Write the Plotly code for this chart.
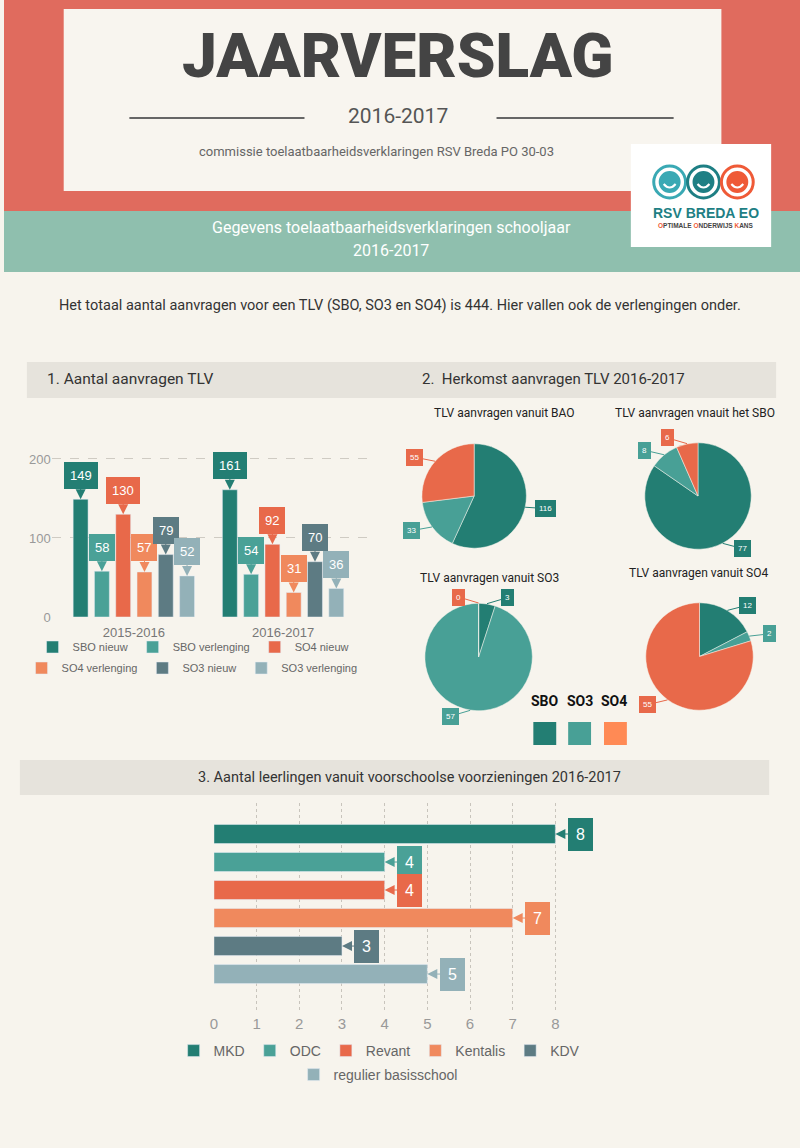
import math
import plotly.graph_objects as go

W, H = 800, 1148
HE = 1140  # effective drawing height of the paper area
def X(p): return p / W
def Y(p): return 1 - p / HE

BG = "#f7f4ed"
COND = "Roboto, Liberation Sans, sans-serif"
SANS = "Liberation Sans, Arial, sans-serif"

# ---------------- data ----------------
years = ["2015-2016", "2016-2017"]
tlv_names = ["SBO nieuw", "SBO verlenging", "SO4 nieuw", "SO4 verlenging", "SO3 nieuw", "SO3 verlenging"]
sbo_nieuw = [149, 161]
sbo_verlenging = [58, 54]
so4_nieuw = [130, 92]
so4_verlenging = [57, 31]
so3_nieuw = [79, 70]
so3_verlenging = [52, 36]
tlv_values = [sbo_nieuw, sbo_verlenging, so4_nieuw, so4_verlenging, so3_nieuw, so3_verlenging]
tlv_colors = ["#237e73", "#4aa197", "#e8694a", "#f0895d", "#5d7b83", "#93b1b8"]

pie_labels = ["SBO", "SO3", "SO4"]
pie_colors = ["#237e73", "#48a096", "#e8694a"]
pie_bao = [116, 33, 55]
pie_sbo = [77, 8, 6]
pie_so3 = [3, 57, 0]
pie_so4 = [12, 2, 55]
pie_titles = ["TLV aanvragen vanuit BAO", "TLV aanvragen vnauit het SBO",
              "TLV aanvragen vanuit SO3", "TLV aanvragen vanuit SO4"]

vs_cats = ["MKD", "ODC", "Revant", "Kentalis", "KDV", "regulier basisschool"]
vs_vals = [8, 4, 4, 7, 3, 5]
vs_colors = ["#237e73", "#4aa197", "#e8694a", "#f0895d", "#5d7b83", "#93b1b8"]

fig = go.Figure()
ann = []
shapes = []

# ---------------- chart 1: grouped bars ----------------
slot = 21.4 / 150
bar_w = 15 / 150
for s, (name, vals, col) in enumerate(zip(tlv_names, tlv_values, tlv_colors)):
    xs = [g + (s - 2.5) * slot for g in range(len(years))]
    fig.add_trace(go.Bar(x=xs, y=vals, width=bar_w, marker_color=col, name=name,
                         xaxis="x", yaxis="y", hoverinfo="skip",
                         legend="legend" if s < 3 else "legend2"))
    for xv, v in zip(xs, vals):
        ann.append(dict(x=xv, y=v, xref="x", yref="y", text=str(v),
                        font=dict(family=SANS, size=13, color="white"),
                        bgcolor=col, bordercolor=col, borderpad=5,
                        showarrow=True, arrowhead=2, arrowsize=2, arrowwidth=1,
                        arrowcolor=col, ax=0, ay=-24))

# ---------------- chart 3: horizontal bars ----------------
for cat, v, col in zip(vs_cats, vs_vals, vs_colors):
    fig.add_trace(go.Bar(x=[v], y=[cat], orientation="h", width=0.68, marker_color=col,
                         name=cat, xaxis="x2", yaxis="y2", hoverinfo="skip",
                         legend="legend3" if cat != vs_cats[-1] else "legend4"))
    ann.append(dict(x=v, y=cat, xref="x2", yref="y2", text=str(v),
                    font=dict(family=SANS, size=16, color="white"),
                    bgcolor=col, bordercolor=col, borderpad=7,
                    showarrow=True, arrowhead=2, arrowsize=2, arrowwidth=1,
                    arrowcolor=col, ax=25, ay=0))

# ---------------- pies ----------------
pie_geo = [(472.5, 496, 52.5), (697.5, 496, 53.5), (477, 657, 54), (699, 656.5, 54)]
pie_data = [pie_bao, pie_sbo, pie_so3, pie_so4]
pie_title_pos = [(503, 413), (694, 413), (488, 578), (698, 573)]
for (cx, cy, r), vals, title, (tx, ty) in zip(pie_geo, pie_data, pie_titles, pie_title_pos):
    fig.add_trace(go.Pie(values=vals, labels=pie_labels, sort=False, direction="clockwise",
                         rotation=0, textinfo="none", showlegend=False, hoverinfo="skip",
                         marker=dict(colors=pie_colors, line=dict(color=BG, width=0.5)),
                         domain=dict(x=[X(cx - r), X(cx + r)], y=[Y(cy + r), Y(cy - r)])))
    total = sum(vals)
    start = 0.0
    for v, col in zip(vals, pie_colors):
        th = start + 0.5 * v / total * 360
        start += v / total * 360
        t = math.radians(th)
        ex, ey = cx + r * math.sin(t), cy - r * math.cos(t)
        side = 1 if th < 180 else -1
        ann.append(dict(x=X(ex), y=Y(ey), xref="paper", yref="paper", text=str(v),
                        font=dict(family=SANS, size=8, color="white"),
                        bgcolor=col, bordercolor=col, borderpad=3,
                        showarrow=True, arrowhead=0, arrowwidth=1, arrowcolor=col,
                        ax=20 * side, ay=-6 * math.cos(t)))
    ann.append(dict(x=X(tx), y=Y(ty), xref="paper", yref="paper", text=title, showarrow=False,
                    xanchor="center", yanchor="middle",
                    font=dict(family=COND, size=12, color="#222")))

# ---------------- background / decoration ----------------
def rect(x0, y0, x1, y1, color, layer="below"):
    shapes.append(dict(type="rect", xref="paper", yref="paper", x0=X(x0), x1=X(x1),
                       y0=Y(y1), y1=Y(y0), fillcolor=color, line=dict(width=0), layer=layer))

rect(0, 0, 800, 211, "#e06b5e")
rect(60, 9, 721, 191, "#f8f5ef")
rect(0, 211, 800, 272, "#8fbfae")
rect(23, 362, 776, 398, "#e6e3dc")
rect(16, 760, 769, 795, "#e6e3dc")
# logo box
rect(630, 144, 771, 247, "#ffffff", layer="above")
for lx, lc in zip([669, 703, 737], ["#3aa9b4", "#1e7f84", "#ef5a37"]):
    shapes.append(dict(type="circle", xref="paper", yref="paper", x0=X(lx - 16), x1=X(lx + 16),
                       y0=Y(198), y1=Y(166), line=dict(color=lc, width=3), fillcolor="white", layer="above"))
    shapes.append(dict(type="circle", xref="paper", yref="paper", x0=X(lx - 11), x1=X(lx + 11),
                       y0=Y(193), y1=Y(171), line=dict(width=0), fillcolor=lc, layer="above"))
    shapes.append(dict(type="path", xref="paper", yref="paper",
                       path=f"M {X(lx-6)},{Y(184)} Q {X(lx)},{Y(191)} {X(lx+6)},{Y(184)}",
                       line=dict(color="white", width=2), layer="above"))
# lines beside year
for x0, x1 in [(126, 302), (495, 673)]:
    shapes.append(dict(type="line", xref="paper", yref="paper", x0=X(x0), x1=X(x1),
                       y0=Y(118), y1=Y(118), line=dict(color="#666", width=2)))
# pie legend squares
for sx, sc in zip([532, 567, 603], ["#237e73", "#48a096", "#ff8a55"]):
    rect(sx, 722, sx + 23, 745, sc, layer="above")

def text(x, y, s, size, color="#333", family=COND, xanchor="center", weight="normal"):
    ann.append(dict(x=X(x), y=Y(y), xref="paper", yref="paper", text=s, showarrow=False,
                    xanchor=xanchor, yanchor="middle",
                    font=dict(family=family, size=size, color=color, weight=weight)))

text(396, 55, "JAARVERSLAG", 62, "#444", weight=900)
text(396, 116, "2016-2017", 21, "#555")
text(374, 152, "commissie toelaatbaarheidsverklaringen RSV Breda PO 30-03", 13, "#666")
text(389, 227, "Gegevens toelaatbaarheidsverklaringen schooljaar", 16, "white")
text(389, 250, "2016-2017", 16, "white")
text(398, 306, "Het totaal aantal aanvragen voor een TLV (SBO, SO3 en SO4) is 444. Hier vallen ook de verlengingen onder.", 14.5, "#333")
text(41, 379, "1. Aantal aanvragen TLV", 15.5, "#333", xanchor="left")
text(418, 379, "2.&nbsp;&nbsp;Herkomst aanvragen TLV 2016-2017", 15, "#333", xanchor="left")
text(408, 777, "3. Aantal leerlingen vanuit voorschoolse voorzieningen 2016-2017", 14.5, "#333")
for lx, lab in zip([544, 579, 613], pie_labels):
    text(lx, 701, lab, 14, "#111", weight="bold")
text(706, 213, "RSV BREDA EO", 14, "#1e7f84", family=SANS, weight="bold")
text(706, 225, "<span style='color:#ef5a37'>O</span>PTIMALE <span style='color:#ef5a37'>O</span>NDERWIJS <span style='color:#ef5a37'>K</span>ANS",
     6.5, "#444", family=SANS, weight="bold")

leg_common = dict(orientation="h", xanchor="center", yanchor="middle", bgcolor="rgba(0,0,0,0)",
                  itemwidth=30, tracegroupgap=0)

fig.update_layout(
    width=W, height=H, margin=dict(l=0, r=0, t=0, b=0),
    paper_bgcolor=BG, plot_bgcolor="rgba(0,0,0,0)",
    barmode="overlay", annotations=ann, shapes=shapes,
    xaxis=dict(domain=[X(48), X(370)], range=[-0.55, 1.597], tickvals=list(range(len(years))),
               ticktext=years, showgrid=False, zeroline=False, ticks="", anchor="y",
               ticklabelstandoff=6, tickfont=dict(family=SANS, size=13, color="#777")),
    yaxis=dict(domain=[Y(617), Y(440)], range=[0, 224], tickvals=[0, 100, 200], showgrid=True,
               griddash="dash", gridcolor="#cfcbc3", zeroline=False, anchor="x",
               tickfont=dict(family=SANS, size=13, color="#999")),
    xaxis2=dict(domain=[X(211), X(567)], range=[0, 8.3], tickvals=list(range(9)), showgrid=True,
                griddash="dot", gridcolor="#c8c4bc", zeroline=False, anchor="y2", ticks="",
                tickfont=dict(family=SANS, size=15, color="#999")),
    yaxis2=dict(domain=[Y(1013), Y(803)], type="category", categoryarray=vs_cats,
                range=[6.39, -1.107], showticklabels=False, showgrid=False, zeroline=False,
                anchor="x2"),
    legend=dict(x=X(190), y=Y(647), font=dict(family=SANS, size=11, color="#666"), **leg_common),
    legend2=dict(x=X(189), y=Y(668), font=dict(family=SANS, size=11, color="#666"), **leg_common),
    legend3=dict(x=X(377), y=Y(1051), font=dict(family=SANS, size=14, color="#666"), **leg_common),
    legend4=dict(x=X(376), y=Y(1075), font=dict(family=SANS, size=14, color="#666"), **leg_common),
)

fig.write_html("out.html", config={"displayModeBar": False},
               post_script="document.body.style.margin='0';document.body.style.overflow='hidden';"
                           "document.body.style.background='#f7f4ed';")
